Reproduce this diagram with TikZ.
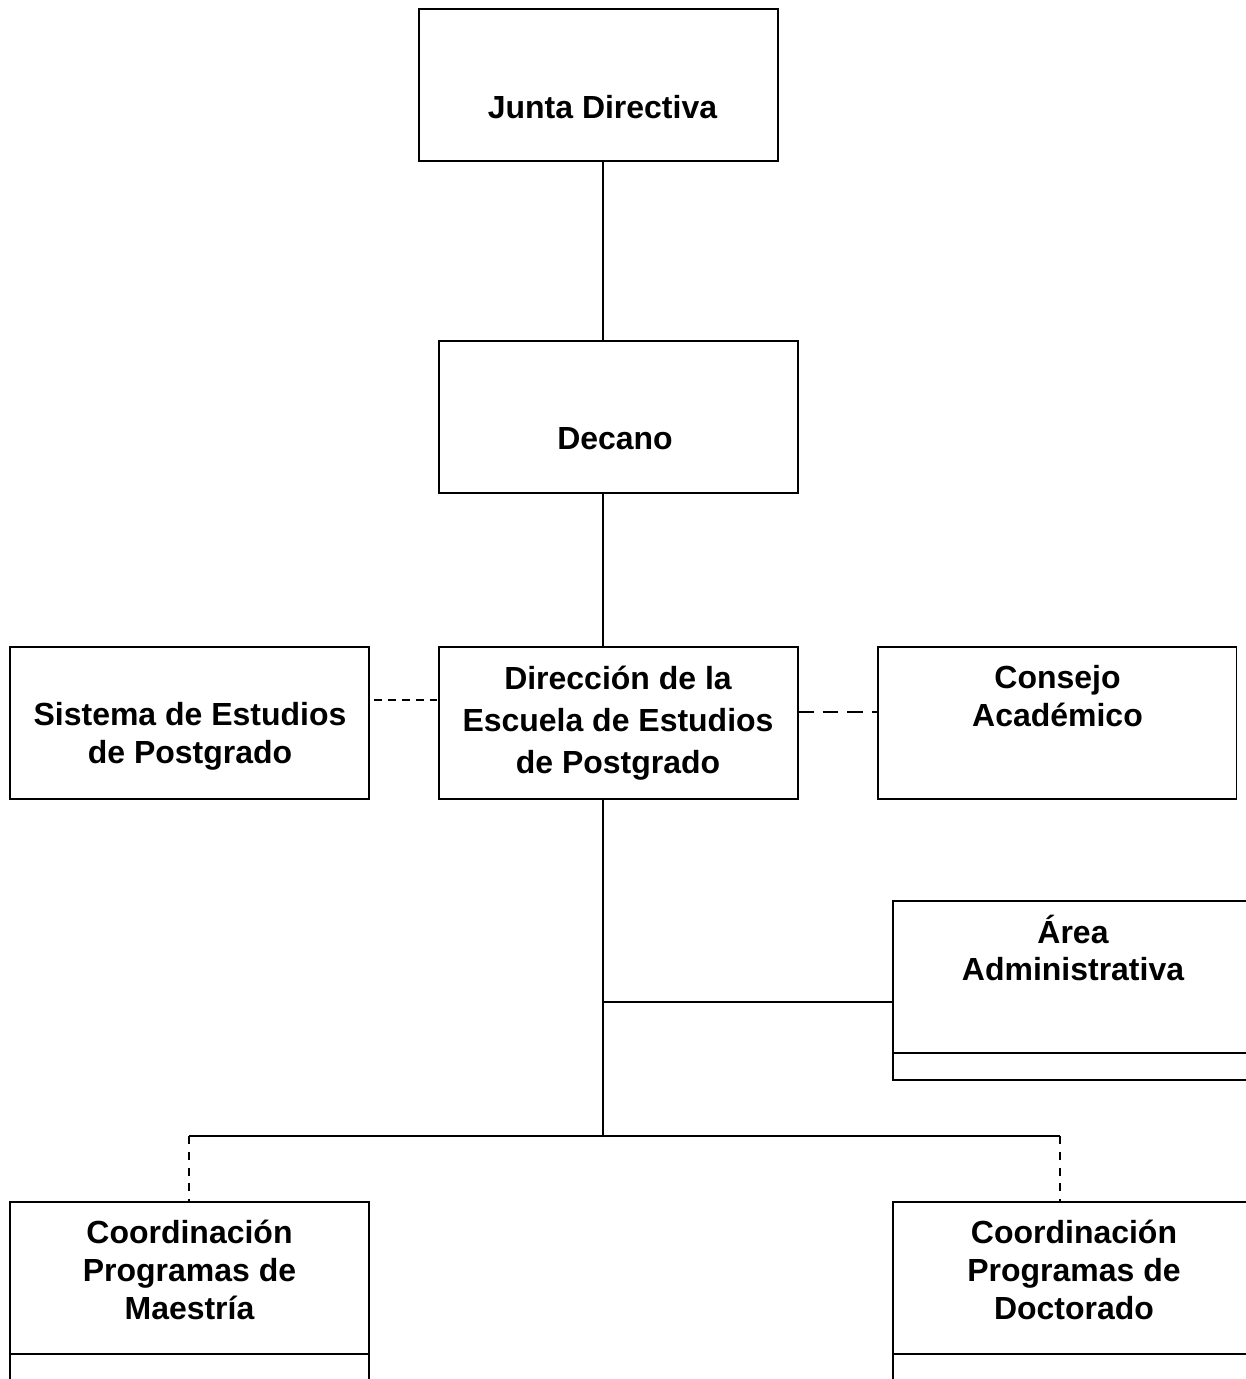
\documentclass[tikz,border=0pt]{standalone}
\usepackage{fontspec}
\setmainfont{Liberation Sans}
\tikzset{
    caja/.style={draw, line width=1.1pt, minimum width=7.18cm, minimum height=3.04cm, inner sep=0pt, outer sep=0pt},
    texto/.style={font=\fontsize{18.2}{21.5}\selectfont\bfseries, align=center, inner sep=0pt},
    linea/.style={line width=1.1pt},
}
\begin{document}
\begin{tikzpicture}[x=0.02cm, y=-0.02cm]
    \useasboundingbox (0,0) rectangle (1246,1379);
    \clip (0,0) rectangle (1246,1379);
    \node[caja] (jun) at (598.5,85) {};
    \node[caja] (dec) at (618.5,417) {};
    \node[caja] (dir) at (618.5,723) {};
    \node[caja] (sis) at (189.5,723) {};
    \node[caja] (con) at (1057,723) {};
    \node[caja] (are) at (1072.5,977) {};
    \node[caja] (mae) at (189.5,1278) {};
    \node[caja] (doc) at (1072.5,1278) {};
    \draw[linea] (are.south west) rectangle ++(359,27);
    \draw[linea] (mae.south west) rectangle ++(359,60);
    \draw[linea] (doc.south west) rectangle ++(359,60);
    \node[texto] (junT) at (602.5,107) {Junta Directiva};
    \node[texto] (decT) at (615,439) {Decano};
    \node[texto, font=\fontsize{18.2}{24}\selectfont\bfseries] (dirT) at (618,723) {Dirección de la\\Escuela de Estudios\\de Postgrado};
    \node[texto] (sisT) at (190,736) {Sistema de Estudios\\de Postgrado};
    \node[texto] (conT) at (1057.5,696) {Consejo\\Académico};
    \node[texto] (areT) at (1073,948) {Área\\Administrativa};
    \node[texto] (maeT) at (189.5,1270) {Coordinación\\Programas de\\Maestría};
    \node[texto] (docT) at (1074,1270) {Coordinación\\Programas de\\Doctorado};
    \coordinate (eje) at (603,0);
    \coordinate (rama) at (893,1002);
    \coordinate (busL) at (189,1136);
    \coordinate (busR) at (1060,1136);
    \draw[linea] (jun.south -| eje) -- (dec.north -| eje);
    \draw[linea] (dec.south -| eje) -- (dir.north -| eje);
    \draw[linea] (dir.south -| eje) -- (eje |- busL);
    \draw[linea] (eje |- rama) -- (rama);
    \draw[linea] (busL) -- (busR);
    \draw[linea, dash pattern=on 4.5pt off 3.4pt, dash phase=5pt] ([yshift=0.46cm]sis.east) -- ([yshift=0.46cm]dir.west);
    \draw[linea, dash pattern=on 9pt off 5pt] ([yshift=0.22cm]dir.east) -- ([yshift=0.22cm]con.west);
    \draw[linea, dash pattern=on 4.5pt off 4.5pt] (busL) -- (busL |- mae.north);
    \draw[linea, dash pattern=on 4.5pt off 4.5pt] (busR) -- (busR |- doc.north);
\end{tikzpicture}
\end{document}
